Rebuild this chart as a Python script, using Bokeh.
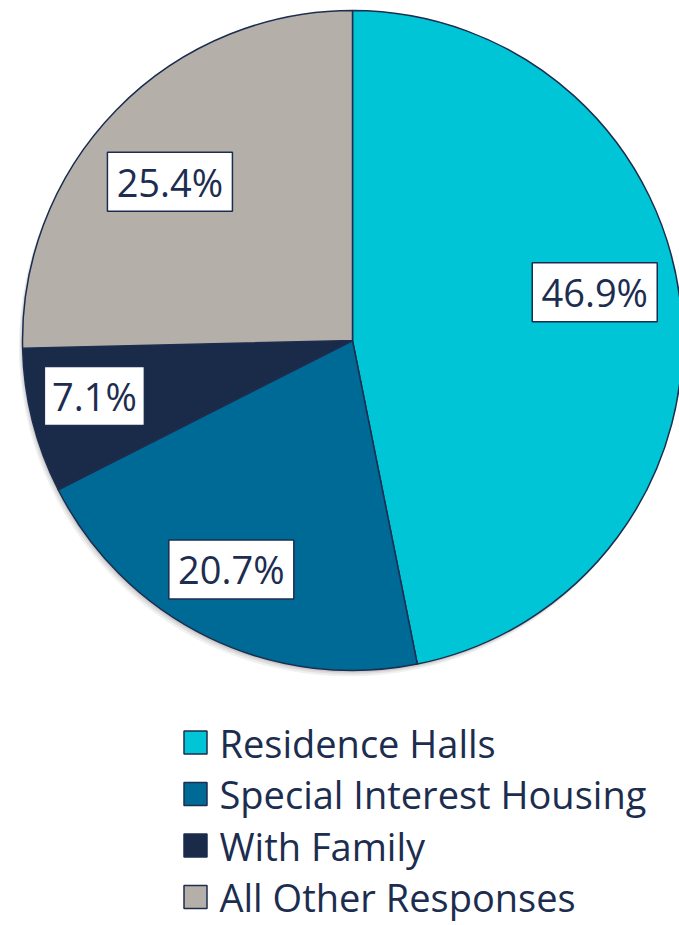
import math
from bokeh.plotting import figure
from bokeh.models import Range1d, ColumnDataSource
from bokeh.core.properties import value
from bokeh.embed import file_html
from bokeh.resources import INLINE

# ---- data ----
categories = ["Residence Halls", "Special Interest Housing", "With Family", "All Other Responses"]
percents = [46.9, 20.7, 7.1, 25.4]
labels = ["46.9%", "20.7%", "7.1%", "25.4%"]
colors = ["#00C5D6", "#006A96", "#1A2B4A", "#B4B0A9"]

# ---- layout ----
W, H = 679, 925
cx, cy, R = 352, 585, 330
label_r = [247, 259, 264, 242]
label_nudge_deg = [-5.6, 2.0, 2.0, -3.3]   # clockwise nudge from slice mid-angle
box_w = [125, 125, 100, 125]
box_h = 59
navy = "#1C2D4F"
font = "Open Sans"

p = figure(width=W, height=H, output_backend="svg", toolbar_location=None,
           x_range=Range1d(0, W), y_range=Range1d(0, H),
           min_border=0, outline_line_color=None)
p.axis.visible = False
p.grid.visible = False
p.background_fill_color = "white"

total = sum(percents)
starts, ends, mids = [], [], []
cum = 0.0
for v in percents:
    a0 = math.pi / 2 - 2 * math.pi * cum / total
    cum += v
    a1 = math.pi / 2 - 2 * math.pi * cum / total
    starts.append(a0)
    ends.append(a1)
    mids.append((a0 + a1) / 2)

# soft shadow
for off, alpha in [(6, 0.10), (4, 0.15), (2, 0.2)]:
    p.circle(x=[cx - off * 0.6], y=[cy - off], radius=R, fill_color="#7a7a7a",
             fill_alpha=alpha, line_color=None)

src = ColumnDataSource(dict(start=starts, end=ends, color=colors))
p.wedge(x=cx, y=cy, radius=R, start_angle="start", end_angle="end",
        direction="clock", fill_color="color", line_color=navy, line_width=1.5,
        source=src)

lx, ly = [], []
for m, r, n in zip(mids, label_r, label_nudge_deg):
    a = m - math.radians(n)
    lx.append(cx + r * math.cos(a))
    ly.append(cy + r * math.sin(a))
lsrc = ColumnDataSource(dict(x=lx, y=ly, w=box_w, text=labels))
p.rect(x="x", y="y", width="w", height=box_h, fill_color="white",
       line_color=navy, line_width=1.5, source=lsrc)
p.text(x="x", y="y", text="text", text_font=value(font), text_font_size="38px",
       text_color=navy, text_align="center", text_baseline="middle", source=lsrc)

# legend
leg_x, leg_y0, leg_dy, sq = 195, 183, 51.5, 23
ys = [leg_y0 - i * leg_dy for i in range(len(categories))]
gsrc = ColumnDataSource(dict(x=[leg_x] * len(categories), y=ys, color=colors,
                             tx=[leg_x + 24] * len(categories), text=categories))
p.rect(x="x", y="y", width=sq, height=sq, fill_color="color", line_color=navy,
       line_width=1.5, source=gsrc)
p.text(x="tx", y="y", text="text", text_font=value(font), text_font_size="38px",
       text_color=navy, text_align="left", text_baseline="middle", source=gsrc)

open("out.html", "w").write(file_html(p, INLINE))
